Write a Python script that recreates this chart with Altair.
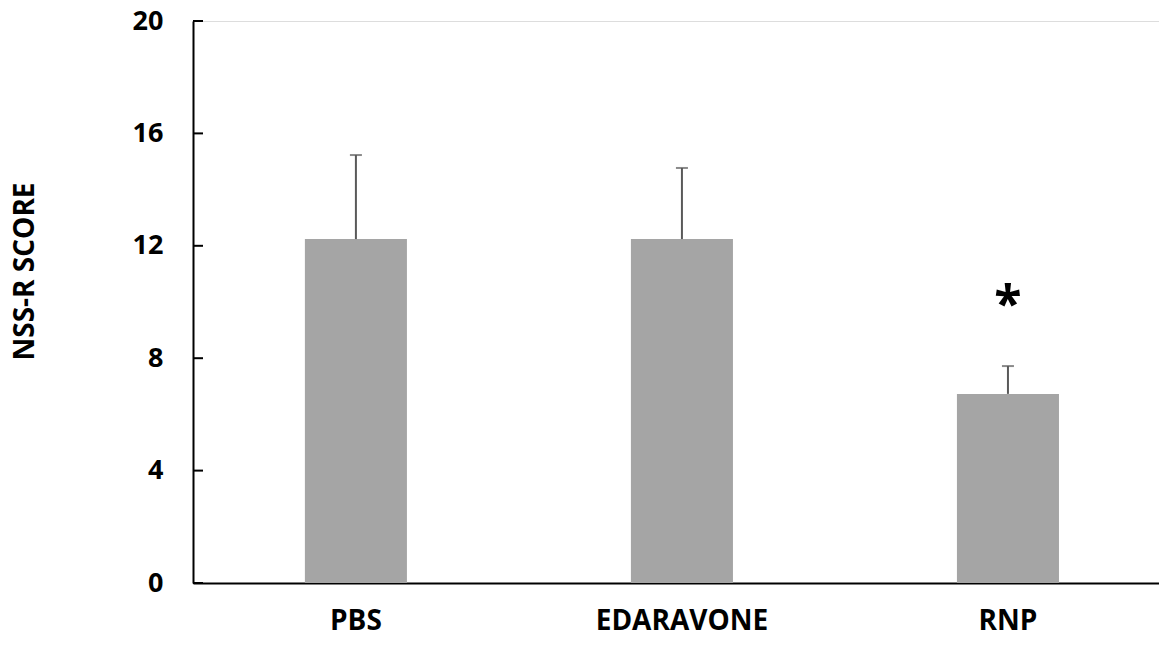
import altair as alt
import pandas as pd

groups = ["PBS", "EDARAVONE", "RNP"]
means = [12.24, 12.24, 6.73]
errors = [2.99, 2.53, 0.99]
sig_labels = ["", "", "*"]
sig_y = [0, 0, 10.3]
y_ticks = [0, 4, 8, 12, 16, 20]

df = pd.DataFrame({"group": groups, "mean": means, "err": errors,
                   "sig": sig_labels, "sig_y": sig_y})
df["upper"] = df["mean"] + df["err"]
ticks_df = pd.DataFrame({"v": y_ticks})

FONT = "Open Sans"
x_scale = alt.Scale(domain=groups, paddingInner=0.687, paddingOuter=0.325, align=0.528)
y_scale = alt.Scale(domain=[0, 20], nice=False, zero=True)

x_enc = alt.X("group:N", sort=groups, scale=x_scale,
              axis=alt.Axis(title=None, labelAngle=0, labelFont=FONT, labelFontSize=28,
                            labelFontWeight="bold", labelColor="black", labelPadding=24,
                            ticks=False, domainColor="black", domainWidth=2))

bars = alt.Chart(df).mark_bar(color="#A5A5A5").encode(
    x=x_enc,
    y=alt.Y("mean:Q", scale=y_scale,
            axis=alt.Axis(values=y_ticks, title="NSS-R SCORE", titleFont=FONT,
                          titleFontSize=28, titleFontWeight="bold", titleColor="black",
                          titleAngle=270, titleAlign="center", titleBaseline="middle",
                          titleX=-168, titleY=250,
                          labelFont=FONT, labelFontSize=27, labelFontWeight="bold",
                          labelColor="black", labelPadding=30, ticks=False,
                          grid=False, domainColor="black", domainWidth=2)),
)

err_rule = alt.Chart(df).mark_rule(color="#595959", strokeWidth=2).encode(
    x=alt.X("group:N", sort=groups, scale=x_scale),
    y=alt.Y("mean:Q", scale=y_scale),
    y2="upper:Q",
)

err_cap = alt.Chart(df).mark_tick(color="#595959", thickness=2, size=12, orient="horizontal").encode(
    x=alt.X("group:N", sort=groups, scale=x_scale),
    y=alt.Y("upper:Q", scale=y_scale),
)

sig = alt.Chart(df).mark_text(font=FONT, fontSize=50, fontWeight="bold", color="black",
                              baseline="middle", dy=12).encode(
    x=alt.X("group:N", sort=groups, scale=x_scale),
    y=alt.Y("sig_y:Q", scale=y_scale),
    text="sig:N",
)

inner_ticks = alt.Chart(ticks_df).mark_rule(color="black", strokeWidth=2).encode(
    x=alt.value(0), x2=alt.value(10),
    y=alt.Y("v:Q", scale=y_scale),
)

chart = alt.layer(bars, err_rule, err_cap, sig, inner_ticks).properties(
    width=966, height=562,
    autosize=alt.AutoSizeParams(type="none"),
    padding={"left": 185, "top": 13, "right": 0, "bottom": 60},
).configure_view(stroke=None).configure(background="white")

chart.save("out.html", embed_options={"renderer": "svg", "actions": False})
